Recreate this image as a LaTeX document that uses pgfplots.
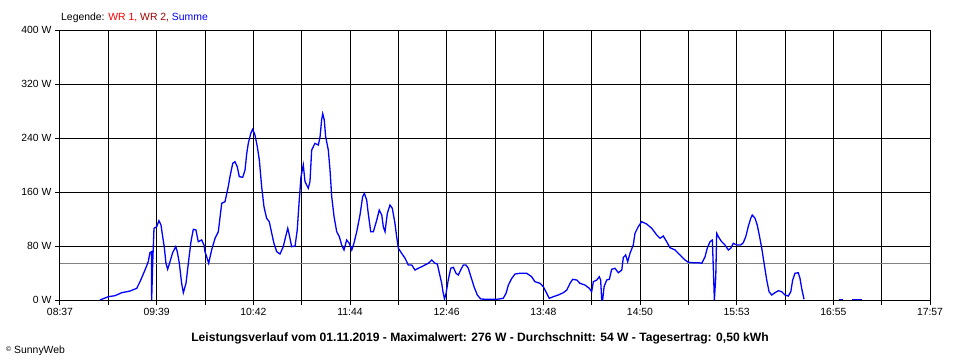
\documentclass[border=0pt]{standalone}
\usepackage{pgfplots}
\pgfplotsset{compat=1.18}
\usepackage{pgfplotstable}
\usepackage{fontspec}
\setmainfont{Liberation Sans}
\definecolor{wrone}{RGB}{255,0,0}
\definecolor{wrtwo}{RGB}{160,0,0}
\definecolor{summe}{RGB}{0,0,255}
\definecolor{avgline}{RGB}{128,128,128}
% minutes after 08:37, power in W
\pgfplotstableread{
m W
25.7 0
31.1 4.9
35.4 6.4
39.7 10.8
45.1 13.3
49.4 17.3
51.5 27.1
54.7 44.4
56.8 56.7
57.9 70.1
58.9 71.6
59.0 0
59.7 56.7
60.5 106.2
62.2 108.6
63.7 117.5
65.0 111.1
66.1 93.8
67.1 79.0
68.2 54.4
69.3 45.5
70.8 56.7
72.5 70.1
74.5 79.0
75.5 71.6
76.8 54.4
78.3 24.7
79.4 10.8
81.1 24.7
82.6 54.4
84.3 86.4
85.8 104.7
87.5 103.7
89.0 86.4
91.2 88.9
92.7 81.5
93.3 71.6
94.4 64.1
95.7 54.4
97.6 74.1
99.8 91.4
101.9 101.2
104.1 143.3
106.2 145.6
108.3 167.9
109.4 182.7
111.2 202.5
112.6 204.9
114.1 197.5
115.4 182.7
117.6 181.8
119.1 192.6
120.2 217.3
121.2 232.1
122.8 246.9
124.0 252.9
125.5 244.4
127.0 227.1
128.3 207.4
129.8 167.9
131.3 138.2
133.0 121.0
134.7 116.0
136.3 98.8
137.7 84.0
139.5 71.6
141.6 68.1
143.7 79.0
145.5 96.3
146.6 106.2
147.6 96.3
149.1 79.0
151.3 80.0
152.7 103.7
154.0 148.1
155.1 182.2
156.6 200.0
157.7 175.3
159.8 165.5
160.9 175.3
162.0 222.2
164.1 232.1
166.3 229.6
167.4 242.0
168.4 266.7
169.1 276.0
170.1 266.7
171.0 242.0
172.7 222.2
173.8 192.6
174.9 153.0
176.4 123.5
178.1 101.2
179.8 93.8
181.3 81.5
182.8 74.1
184.5 88.9
186.2 84.0
187.8 74.1
189.2 84.0
191.0 101.2
193.1 125.9
194.8 153.0
195.9 158.1
197.4 148.1
198.4 128.4
200.0 101.2
201.7 101.2
203.9 118.5
205.5 133.3
207.1 125.9
208.1 108.6
209.2 101.2
210.7 128.4
212.4 140.7
213.9 135.9
215.6 113.6
216.7 93.8
217.8 76.6
219.9 69.2
222.1 61.8
224.2 51.9
226.4 51.9
228.5 44.4
230.6 47.0
232.8 49.3
234.9 51.9
237.1 54.4
239.3 59.3
241.4 54.4
242.9 53.3
244.2 39.6
245.7 24.7
246.5 12.3
247.5 1.5
248.5 9.9
249.9 29.6
251.5 47.0
253.2 48.4
254.9 39.6
256.4 37.0
257.9 44.4
259.6 51.9
261.3 51.9
262.8 47.0
264.5 34.5
266.5 19.7
268.6 7.4
270.8 1.5
274.7 1.0
281.1 1.0
285.3 2.5
287.1 9.9
288.6 22.2
290.8 32.1
292.9 38.5
296.1 39.6
300.4 39.6
303.6 34.5
305.7 27.1
309.0 24.7
311.1 19.7
313.3 9.9
314.9 2.5
317.5 4.9
320.7 7.4
324.0 10.8
326.2 14.8
328.3 24.7
330.0 30.7
332.6 29.6
334.7 24.7
337.9 22.2
340.7 17.3
342.2 12.3
343.3 27.1
345.5 29.6
347.1 34.5
348.0 29.6
348.7 0
349.3 0
350.2 19.7
351.9 29.6
353.6 30.7
355.1 45.5
357.2 47.0
359.4 40.4
361.6 44.4
362.6 63.0
364.1 66.7
365.4 56.7
366.9 69.2
369.0 81.5
370.1 98.8
372.2 108.6
374.4 116.0
377.6 112.6
380.9 106.2
384.1 96.3
386.2 91.4
388.3 94.8
390.5 86.4
392.6 77.5
395.9 74.1
399.1 66.7
402.3 59.3
404.4 55.9
407.6 55.3
410.9 55.3
413.1 54.4
415.2 64.1
416.6 76.6
418.4 86.4
419.9 88.9
420.5 49.3
421.2 0
422.1 34.5
422.7 98.8
424.4 91.4
425.9 86.4
428.0 81.5
430.2 74.1
431.7 76.6
433.4 84.0
435.6 81.5
438.2 81.5
439.8 84.9
441.4 93.8
443.0 108.6
444.6 121.0
445.6 125.9
447.4 121.0
448.8 111.1
450.1 96.3
451.7 76.6
453.2 54.4
454.9 29.6
456.4 12.3
458.1 7.4
460.2 10.8
462.4 13.8
464.5 12.3
466.7 7.4
468.8 5.9
470.4 12.3
471.6 29.6
473.1 39.6
475.2 40.4
476.3 32.1
477.4 17.3
478.9 1.0
}\summedata
\begin{document}
\fontsize{10.4bp}{12bp}\selectfont
\begin{tikzpicture}[x=1bp,y=1bp]
\path[use as bounding box] (-60,-60) rectangle (900,300);
\begin{axis}[
  at={(0,0)}, anchor=south west,
  scale only axis, width=870bp, height=270bp,
  xmin=0, xmax=560, ymin=0, ymax=400,
  xtick={0,31.111,62.222,93.333,124.444,155.556,186.667,217.778,248.889,280,311.111,342.222,373.333,404.444,435.556,466.667,497.778,528.889,560},
  xticklabels={08:37,,09:39,,10:42,,11:44,,12:46,,13:48,,14:50,,15:53,,16:55,,17:57},
  ytick={0,80,160,240,320,400},
  yticklabels={0 W,80 W,160 W,240 W,320 W,400 W},
  xtick pos=left, ytick pos=left,
  tick align=outside, major tick length=5bp,
  grid=major, grid style={black, line width=1bp},
  axis line style={black, line width=1bp},
  tick style={black, line width=1bp},
  tick label style={font=\fontsize{10.4bp}{12bp}\selectfont},
  /pgf/number format/assume math mode=true,
]
\addplot[avgline, line width=1bp, forget plot] coordinates {(0,54) (560,54)};
\addplot[summe, line width=1.3bp] table[x=m, y=W] {\summedata};
\addplot[summe, line width=1.3bp] coordinates {(501.4,1) (504.0,1)};
\addplot[summe, line width=1.3bp] coordinates {(509.8,1) (516.2,1)};
\end{axis}
\node[anchor=base west, inner sep=0] at (1,280) {Legende: \textcolor{wrone}{WR 1,} \textcolor{wrtwo}{WR 2,} \textcolor{summe}{Summe}};
\node[anchor=base, inner sep=0] at (420,-41.5) {\fontsize{12.1bp}{14bp}\selectfont\bfseries Leistungsverlauf vom 01.11.2019 - Maximalwert: 276 W - Durchschnitt: 54 W - Tagesertrag: 0,50 kWh};
\node[anchor=base west, inner sep=0] at (-54,-53) {\raisebox{1.5bp}{\fontsize{7bp}{8bp}\selectfont ©} SunnyWeb};
\end{tikzpicture}
\end{document}
